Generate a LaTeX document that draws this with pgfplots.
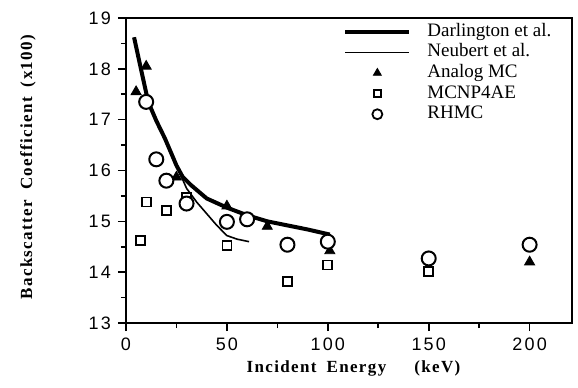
\documentclass[border=0pt]{standalone}
\usepackage{pgfplots}
\pgfplotsset{compat=1.18}
\usetikzlibrary{calc}
\usepackage{fontspec}
\setmainfont{Liberation Serif}
\newfontfamily\tickfont{Liberation Sans}[LetterSpace=12]
\newfontfamily\labfont{Liberation Serif}[LetterSpace=8]
\begin{document}
\begin{tikzpicture}
\begin{axis}[
  scale only axis, width=223pt, height=152.5pt,
  xmin=0, xmax=221, ymin=13, ymax=19,
  xtick={0,50,100,150,200}, ytick={13,14,15,16,17,18,19},
  minor x tick num=1, minor y tick num=1,
  tick pos=left, tick align=outside,
  major tick length=4pt, minor tick length=2.5pt,
  axis line style={line width=0.9pt},
  every tick/.style={line width=0.8pt, black},
  /pgf/number format/assume math mode=true,
  ticklabel style={font=\tickfont\fontsize{9}{10}\selectfont},
  xlabel={Incident\hspace{5pt}Energy\hspace{14pt}(keV)},
  ylabel={Backscatter\hspace{5pt}Coefficient\hspace{5pt}(x100)},
  xlabel style={font=\labfont\bfseries\fontsize{8.5}{10}\selectfont, at={(axis description cs:0.51,-0.1475)}, anchor=center},
  ylabel style={font=\labfont\bfseries\fontsize{8.5}{10}\selectfont, at={(axis description cs:-0.22,0.511)}, anchor=center},
  legend image code/.code={\draw[mark repeat=2,mark phase=2,#1] plot coordinates {(0pt,0pt) (16pt,0pt) (32pt,0pt)};},
  legend style={draw=none, fill=none, at={(rel axis cs:0.473,0.997)}, anchor=north west,
    font=\fontsize{9.5}{11}\selectfont, row sep=1.8pt, column sep=8pt,
    nodes={inner sep=0pt, text height=6.5pt, text depth=2pt}, cells={anchor=west}},
]
\addlegendimage{black, line width=2pt}
\addlegendentry{Darlington et al.}
\addlegendimage{black, line width=0.8pt}
\addlegendentry{Neubert et al.}
\addlegendimage{only marks, mark=triangle*, mark size=2.3pt, black}
\addlegendentry{Analog MC}
\addlegendimage{only marks, mark=square, mark size=1.7pt, black, line width=0.8pt}
\addlegendentry{MCNP4AE}
\addlegendimage{only marks, mark=o, mark size=2.5pt, black, line width=0.9pt}
\addlegendentry{RHMC}

% Darlington et al.
\addplot[forget plot, black, line width=2pt] coordinates {
(4,18.62) (7.5,17.98) (11,17.35) (15,16.98) (19.3,16.63) (22,16.38) (25,16.1) (28,15.88)
(32,15.72) (40,15.45) (50,15.27) (60,15.12) (70,15.0) (80,14.92) (90,14.84) (101,14.74)};
% Neubert et al.
\addplot[forget plot, black, line width=0.8pt] coordinates {
(4,18.62) (7.5,17.98) (11,17.35) (15,16.98) (19.3,16.63) (22,16.38) (25,16.1) (30,15.65)
(35,15.38) (40,15.15) (45,14.92) (50,14.72) (55,14.65) (61,14.6)};
% Analog MC
\addplot[forget plot, only marks, mark=triangle*, mark size=2.9pt, black] coordinates {
(5,17.55) (10,18.05) (25,15.87) (50,15.3) (70,14.9) (101,14.42) (200,14.2)};
% MCNP4AE
\addplot[forget plot, only marks, mark=square*, mark size=2.25pt, black, line width=0.9pt, mark options={fill=white}] coordinates {
(7,14.63) (10,15.38) (20,15.22) (30,15.47) (50,14.52) (80,13.82) (100,14.14) (150,14.02)};
% RHMC
\addplot[forget plot, only marks, mark=*, mark size=3.5pt, black, line width=1pt, mark options={fill=white}] coordinates {
(10,17.35) (15,16.22) (20,15.8) (30,15.35) (50,14.99) (60,15.04) (80,14.54) (100,14.6) (150,14.27) (200,14.54)};
\end{axis}
\pgfresetboundingbox
\path (current axis.south west) ++(-63pt,-32pt) rectangle ($(current axis.north east)+(3pt,9pt)$);
\end{tikzpicture}
\end{document}
